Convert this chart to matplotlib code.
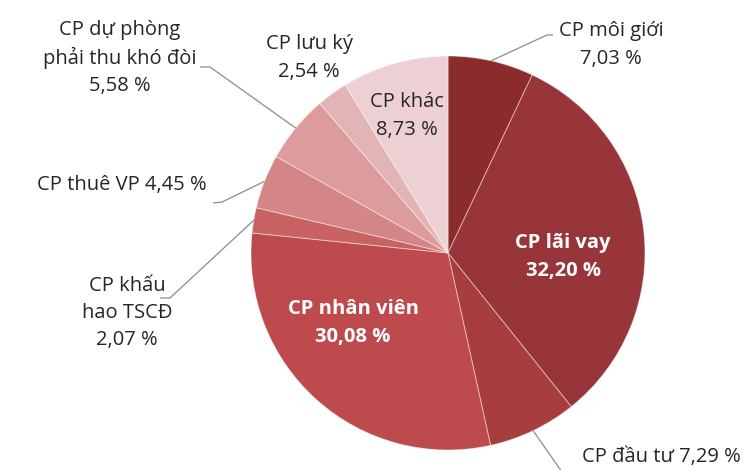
import numpy as np
import matplotlib
matplotlib.use("Agg")
import matplotlib.pyplot as plt

labels = ["CP môi giới", "CP lãi vay", "CP đầu tư", "CP nhân viên", "CP khấu\nhao TSCĐ",
          "CP thuê VP", "CP dự phòng\nphải thu khó đòi", "CP lưu ký", "CP khác"]
values = [7.03, 32.20, 7.29, 30.08, 2.07, 4.45, 5.58, 2.54, 8.73]
value_text = ["7,03 %", "32,20 %", "7,29 %", "30,08 %", "2,07 %", "4,45 %", "5,58 %", "2,54 %", "8,73 %"]
colors = ["#8a2b2c", "#98353a", "#a73d3c", "#bd4a4c", "#c96263", "#d48586",
          "#dc9c9d", "#e3b4b6", "#edd0d3"]

W, H = 751, 470
fig = plt.figure(figsize=(W / 100, H / 100), dpi=100)
ax = fig.add_axes([0, 0, 1, 1])

cx, cy, R = 448, H - 253, 197
wedges, _ = ax.pie(values, colors=colors, startangle=90, counterclock=False,
                   center=(cx, cy), radius=R,
                   wedgeprops=dict(edgecolor=(1, 1, 1, 0.45), linewidth=0.7))
ax.set_xlim(0, W)
ax.set_ylim(0, H)
ax.set_aspect("equal")
ax.axis("off")

FONT = ["Open Sans", "DejaVu Sans"]
FS = 14.5
TXT = "#262626"

def P(x, y):
    return x, H - y

def put(x, y, s, **kw):
    kw.setdefault("color", TXT)
    kw.setdefault("fontsize", FS)
    kw.setdefault("linespacing", 1.5)
    ax.text(*P(x, y), s, ha="center", va="center", family=FONT, **kw)

def edge_point(i):
    w = wedges[i]
    ang = np.deg2rad((w.theta1 + w.theta2) / 2)
    return cx + R * np.cos(ang), cy + R * np.sin(ang)

def leader(i, pts):
    ex, ey = edge_point(i)
    xs = [ex] + [p[0] for p in pts]
    ys = [ey] + [H - p[1] for p in pts]
    ax.plot(xs, ys, color="#8c8c8c", lw=0.9, solid_capstyle="butt")

# outside labels
put(611, 45, labels[0] + "\n" + value_text[0])
leader(0, [(547, 35), (553, 35)])

put(661, 457, labels[2] + " " + value_text[2])
leader(2, [(562, 472)])

put(127, 313, labels[4] + "\n" + value_text[4], linespacing=1.45)
leader(4, [(170, 298), (160, 298)])

put(122, 185, labels[5] + " " + value_text[5])
leader(5, [(222, 202), (213, 203)])

put(120, 58, labels[6] + "\n" + value_text[6], linespacing=1.42)
leader(6, [(210, 67), (200, 67)])

put(309, 58, labels[7] + "\n" + value_text[7])

# inside labels
put(407, 116, labels[8] + "\n" + value_text[8])
put(563, 257, labels[1] + "\n" + value_text[1], color="white", fontweight="bold")
put(353, 323, labels[3] + "\n" + value_text[3], color="white", fontweight="bold")

fig.savefig("out.png", dpi=100)
